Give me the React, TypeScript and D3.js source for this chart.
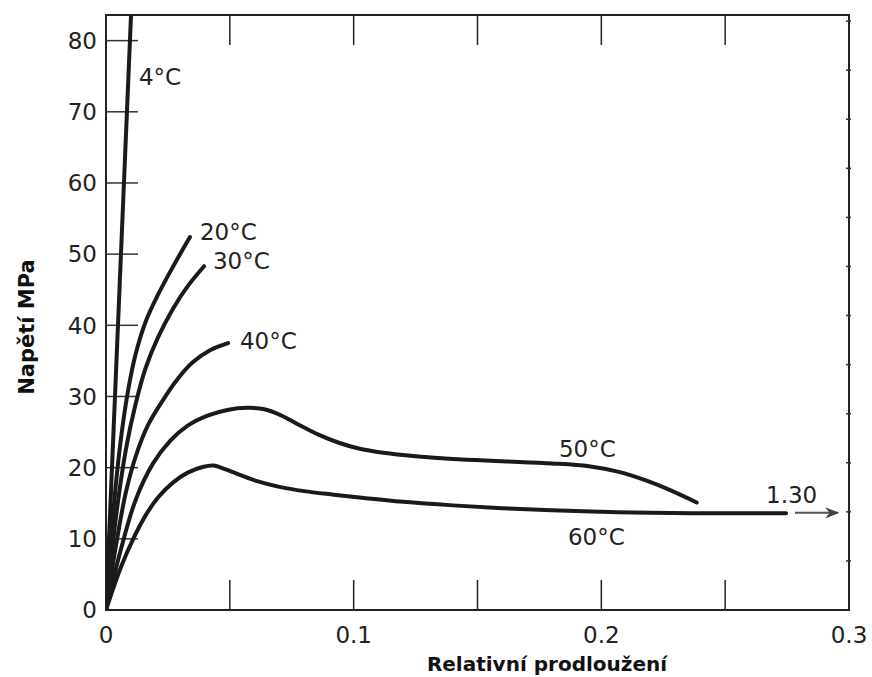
import React from "react";
import * as d3 from "d3";

// Stress–strain curves: strain (relative elongation), stress (MPa)
const strain4 = [0, 0.0101];
const stress4 = [0, 83.6];

const strain20 = [0, 0.003, 0.006, 0.009, 0.012, 0.016, 0.021, 0.027, 0.0339];
const stress20 = [0, 14, 24, 31, 36, 40.5, 44.3, 48.2, 52.4];

const strain30 = [0, 0.004, 0.008, 0.012, 0.016, 0.021, 0.027, 0.033, 0.0396];
const stress30 = [0, 13, 22.5, 29, 34, 38.3, 42.3, 45.5, 48.3];

const strain40 = [0, 0.004, 0.008, 0.012, 0.017, 0.023, 0.029, 0.035, 0.042, 0.0493];
const stress40 = [0, 9, 16.5, 21.6, 26, 29.5, 32.5, 34.8, 36.5, 37.5];

const strain50 = [0, 0.006, 0.012, 0.019, 0.026, 0.033, 0.041, 0.049, 0.057, 0.064, 0.071, 0.078, 0.086, 0.094, 0.102, 0.112, 0.125, 0.14, 0.16, 0.18, 0.195, 0.207, 0.218, 0.228, 0.2385];
const stress50 = [0, 8.5, 15.5, 20.6, 23.8, 25.9, 27.3, 28.1, 28.4, 28.2, 27.3, 26.0, 24.6, 23.5, 22.7, 22.1, 21.6, 21.2, 20.9, 20.6, 20.2, 19.4, 18.2, 16.8, 15.1];

const strain60 = [0, 0.006, 0.011, 0.016, 0.021, 0.027, 0.033, 0.039, 0.0435, 0.048, 0.054, 0.061, 0.07, 0.08, 0.092, 0.105, 0.12, 0.14, 0.16, 0.18, 0.2, 0.22, 0.25, 0.2746];
const stress60 = [0, 6, 10, 13.3, 15.8, 17.9, 19.3, 20.1, 20.3, 19.8, 19.0, 18.1, 17.3, 16.7, 16.2, 15.7, 15.2, 14.7, 14.3, 14.0, 13.8, 13.65, 13.6, 13.6];

const xTicks = [0, 0.1, 0.2, 0.3];
const xTickLabels = ["0", "0.1", "0.2", "0.3"];
const xInnerTicks = [0.05, 0.1, 0.15, 0.2, 0.25];
const yTicks = [0, 10, 20, 30, 40, 50, 60, 70, 80];
const ksiTicks = [1, 2, 3, 4, 5, 6, 7, 8, 9, 10, 11, 12];
const KSI = 6.895;

const labelTexts = ["4°C", "20°C", "30°C", "40°C", "50°C", "60°C", "1.30"];
const labelStrain = [0.01332, 0.03795, 0.0432, 0.0541, 0.1829, 0.1865, 0.2665];
const labelStress = [73.8, 52.0, 47.9, 36.7, 21.5, 9.13, 15.03];

const arrowStrain = [0.2782, 0.2955];
const arrowStress = 13.65;

const series = [
  { xs: strain4, ys: stress4 },
  { xs: strain20, ys: stress20 },
  { xs: strain30, ys: stress30 },
  { xs: strain40, ys: stress40 },
  { xs: strain50, ys: stress50 },
  { xs: strain60, ys: stress60 },
];

export default function App() {
  const W = 872, H = 677;
  const left = 106, right = 849, top = 15, bottom = 610;
  const x = d3.scaleLinear().domain([0, 0.3]).range([left, right]);
  const y = d3.scaleLinear().domain([0, 83.6]).range([bottom, top]);
  const line = d3
    .line<[number, number]>()
    .x((d) => x(d[0]))
    .y((d) => y(d[1]))
    .curve(d3.curveCatmullRom.alpha(0.5));
  const font = "'DejaVu Sans', sans-serif";
  const ink = "#1a1a1a";

  return (
    <svg width={W} height={H} style={{ position: "absolute", left: 0, top: 0, background: "#fff" }}>
      <defs>
        <clipPath id="plot">
          <rect x={left} y={top} width={right - left} height={bottom - top} />
        </clipPath>
        <marker id="arrow" viewBox="0 0 10 10" refX="9" refY="5" markerWidth="7" markerHeight="7" orient="auto">
          <path d="M0,1 L10,5 L0,9 L3,5 z" fill="#444" />
        </marker>
      </defs>

      {/* frame */}
      <rect x={left} y={top} width={right - left} height={bottom - top} fill="none" stroke="#222" strokeWidth={2} />

      {/* inner ticks */}
      {xInnerTicks.map((t, i) => (
        <g key={"xt" + i} stroke="#222" strokeWidth={1.5}>
          <line x1={x(t)} x2={x(t)} y1={bottom} y2={bottom - 30} />
          <line x1={x(t)} x2={x(t)} y1={top} y2={top + 30} />
        </g>
      ))}
      {yTicks.slice(1).map((t, i) => (
        <line key={"yt" + i} x1={left} x2={left + 32} y1={y(t)} y2={y(t)} stroke="#333" strokeWidth={1.5} />
      ))}
      {ksiTicks.map((k, i) => (
        <line key={"kt" + i} x1={right - 3} x2={right + 2} y1={y(k * KSI)} y2={y(k * KSI)} stroke="#333" strokeWidth={1.5} />
      ))}

      {/* curves */}
      <g clipPath="url(#plot)">
        {series.map((s, i) => (
          <path
            key={"s" + i}
            d={line(s.xs.map((v, j) => [v, s.ys[j]] as [number, number])) || ""}
            fill="none"
            stroke={ink}
            strokeWidth={4}
            strokeLinecap="round"
            strokeLinejoin="round"
          />
        ))}
      </g>

      {/* arrow */}
      <line
        x1={x(arrowStrain[0])}
        x2={x(arrowStrain[1])}
        y1={y(arrowStress)}
        y2={y(arrowStress)}
        stroke="#555"
        strokeWidth={2}
        markerEnd="url(#arrow)"
      />

      {/* tick labels */}
      {yTicks.map((t, i) => (
        <text key={"yl" + i} x={97} y={y(t)} dy="0.36em" textAnchor="end" fontFamily={font} fontSize={23} fill="#222">
          {t}
        </text>
      ))}
      {xTicks.map((t, i) => (
        <text key={"xl" + i} x={x(t)} y={643} textAnchor="middle" fontFamily={font} fontSize={23} fill="#222">
          {xTickLabels[i]}
        </text>
      ))}

      {/* curve labels */}
      {labelTexts.map((t, i) => (
        <text key={"lb" + i} x={x(labelStrain[i])} y={y(labelStress[i])} fontFamily={font} fontSize={23} fill="#222">
          {t}
        </text>
      ))}

      {/* axis titles */}
      <text x={547} y={671} textAnchor="middle" fontFamily={font} fontSize={20} fontWeight="bold" fill="#111">
        Relativní prodloužení
      </text>
      <text
        transform="translate(34,327) rotate(-90)"
        textAnchor="middle"
        fontFamily={font}
        fontSize={21}
        fontWeight="bold"
        fill="#111"
      >
        Napětí MPa
      </text>
    </svg>
  );
}
